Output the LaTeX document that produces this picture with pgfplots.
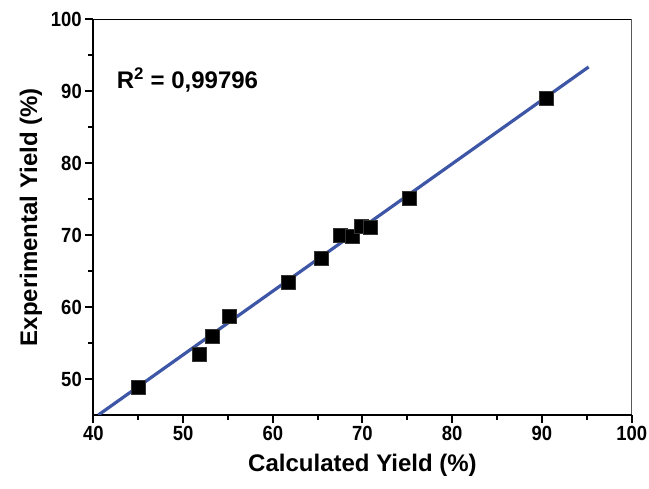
\documentclass[border=0pt]{standalone}
\usepackage{fontspec}
\setmainfont{Liberation Sans}
\newfontfamily\tickfont[FakeStretch=0.9]{Liberation Sans}
\usepackage{pgfplots}
\pgfplotsset{compat=1.18}
\definecolor{fitblue}{RGB}{61,86,166}
\begin{document}
\begin{tikzpicture}
\begin{axis}[
  scale only axis,
  width=538.4pt, height=395.5pt,
  xmin=40, xmax=100, ymin=45, ymax=100,
  axis x line*=bottom, axis y line*=left,
  axis line style={line width=2.4pt},
  xtick={40,50,...,100}, ytick={50,60,...,100},
  minor x tick num=1, minor y tick num=1,
  tick align=outside,
  major tick length=8pt, minor tick length=5pt,
  every tick/.style={black, line width=2pt},
  /pgf/number format/assume math mode=true,
  tick label style={font=\tickfont\fontsize{20.5}{20.5}\selectfont\bfseries},
  xlabel={Calculated Yield (\%)},
  ylabel={Experimental Yield (\%)},
  label style={font=\fontsize{24}{24}\selectfont\bfseries},
  xlabel style={yshift=-6pt},
  ylabel style={yshift=2pt},
  clip=true,
]
\addplot[only marks, mark=square*, mark size=7pt, mark options={fill=black, draw=black!80, line width=0.4pt}] coordinates {
(45.0,48.85) (51.75,53.4) (53.2,56.0) (55.2,58.75) (61.7,63.4) (65.35,66.8)
(67.5,70.0) (68.8,69.9) (69.8,71.2) (70.9,71.1) (75.2,75.1) (90.5,89.1)
};
\addplot[fitblue, line width=3.2pt, no marks] coordinates {(40.56,45) (95.2,93.4)};
\draw[line width=1pt] (rel axis cs:0,1) -- (rel axis cs:1,1) -- (rel axis cs:1,0);
\node[anchor=base west, inner sep=0pt, font=\fontsize{24}{24}\selectfont\bfseries] at (axis cs:42.6,90.4) {R\textsuperscript{2} = 0,99796};
\end{axis}
\pgfresetboundingbox
\path[use as bounding box] (current axis.south west) ++(-93.3pt,-74pt) rectangle ++(649pt,489pt);
\end{tikzpicture}
\end{document}
